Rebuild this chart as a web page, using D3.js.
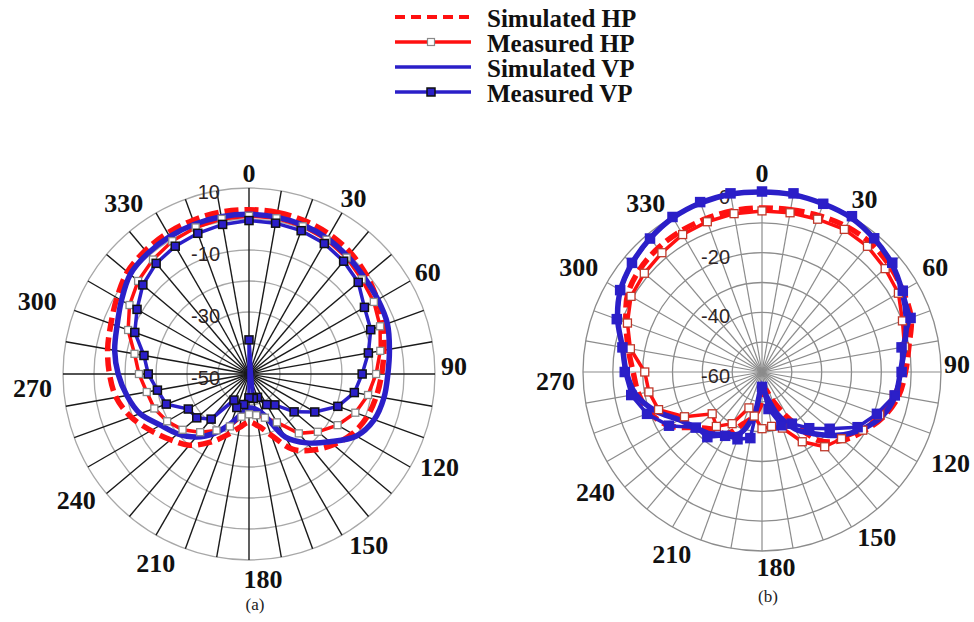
<!DOCTYPE html>
<html>
<head>
<meta charset="utf-8">
<script src="https://cdn.jsdelivr.net/npm/d3@7"></script>
<style>
  body { margin: 0; background: #fff; }
  svg { display: block; font-family: "Liberation Serif", "Times New Roman", serif; }
</style>
</head>
<body>
<svg id="chart" width="974" height="622"></svg>
<script>
// ---- data (dB vs angle in degrees, 0 = up, clockwise) ----
angles = [0, 10, 20, 30, 40, 50, 60, 70, 80, 90, 100, 110, 120, 130, 140, 150, 160, 170,
          180, 190, 200, 210, 220, 230, 240, 250, 260, 270, 280, 290, 300, 310, 320, 330, 340, 350];
angleTicks = [0, 30, 60, 90, 120, 150, 180, 210, 240, 270, 300, 330];

// (a)
ringTicksA = [10, -10, -30, -50];
simHP_a = [3, 2.9, 2.6, 2, 1, -0.5, -2.2, -4, -5.8, -7.2, -8.3, -9.5, -11.5, -14.5, -18, -22, -29, -33,
           -34.5, -32.5, -29, -24.5, -20, -17, -13.5, -9.5, -6.5, -5, -3.7, -2.6, -0.8, 1.2, 2, 2.5, 2.8, 3];
measHP_a = [1, 1, 0.7, 0, -1, -2.5, -3.5, -5, -7, -9, -11, -13.5, -17, -21, -25, -32, -35, -36.5,
            -37, -36, -32, -29, -25.5, -22, -19.5, -17.5, -16.5, -14.5, -12.5, -8.5, -5.5, -3.3, -1.8, -0.5, 0.3, 0.8];
simVP_a = [1.5, 1.4, 1.1, 0.5, -0.5, -1.5, -2, -2.5, -4, -5.2, -5.8, -7, -10, -16, -21, -26.5, -36, -38.5,
           -39, -37, -33, -28, -23.5, -20, -17, -12.6, -10, -7.8, -6, -4.7, -2.5, 0, 0.8, 1.2, 1.4, 1.5];
// measured VP keeps the stray sample (angle 0, -39 dB) between 170 and 180
measVPAngles_a = [0, 10, 20, 30, 40, 50, 60, 70, 80, 90, 100, 110, 120, 130, 140, 150, 160, 170, 0,
                  180, 190, 200, 210, 220, 230, 240, 250, 260, 270, 280, 290, 300, 310, 320, 330, 340, 350];
measVP_a = [-0.5, -0.6, -0.8, -1.4, -2.5, -4, -7, -8.2, -10.9, -13.5, -15.5, -19.5, -25.5, -31, -37, -38.6, -42, -42, -39,
            -42.3, -40, -38.5, -40.3, -31, -28, -27.4, -21.6, -20, -17.5, -15.6, -10.8, -8.3, -5.3, -3.4, -2.4, -1.7, -1.0];

// (b)
ringTicksB = [0, -20, -40, -60];
simHP_b = [-5, -4.8, -4.2, -3.6, -3.5, -4.3, -5.5, -6.8, -10, -11.9, -13.5, -16.5, -20.5, -24.5, -30, -42, -50, -54,
           -50, -45, -41.5, -36, -34.8, -31, -24, -20, -18, -16.8, -14.5, -11.5, -8, -6.5, -5.8, -5.5, -5.3, -5.1];
measHP_b = [-6, -5.8, -5.5, -4.8, -5, -6.1, -7.2, -9.9, -11.5, -13, -15, -18, -21, -25.2, -27.3, -33, -40, -41.5,
            -41, -45, -47.2, -40, -36.2, -38.2, -30, -23.1, -21.5, -20.7, -15.2, -12, -9.3, -8.5, -7.8, -6.8, -6.4, -6.1];
simVP_b = [0.3, 0.3, 0, -0.3, -1.6, -3.3, -5.8, -8.5, -11.5, -13.6, -14.6, -17, -21.5, -27, -33, -38, -45, -52,
           -55, -46, -38, -36, -33, -31, -28, -22, -17, -14.5, -12.5, -8.5, -5.2, -3.2, -1.6, -0.3, 0.3, 0.5];
measVP_b = [0.5, 0.8, 0, 0.3, -1.5, -3, -5.5, -7, -12.5, -13.2, -14.8, -19, -23, -30.4, -35.4, -40, -41, -47.4,
            -55, -37.5, -36, -35.3, -31.5, -31, -24, -19, -15.5, -14, -12.5, -8.2, -5.1, -3.1, -1.6, 0, 0.6, 0.8];

legendNames = ["Simulated HP", "Measured HP", "Simulated VP", "Measured VP"];

RED = "#ff1010";
BLUE = "#2b1fc8";

svg = d3.select("#chart");
svg.append("rect").attr("width", 974).attr("height", 622).attr("fill", "#fff");

function pairs(a, v) { return a.map((d, i) => ({ a: d, v: v[i] })); }

function drawPolar(opts) {
  g = svg.append("g").attr("transform", `translate(${opts.cx},${opts.cy})`);
  r = d3.scaleLinear().domain(opts.domain).range([0, opts.R]);
  ringVals = d3.range(opts.domain[0] + 10, opts.domain[1] + 1, 10);

  // rings
  g.selectAll(".ring").data(ringVals).enter().append("circle")
    .attr("r", d => r(d)).attr("fill", "none")
    .attr("stroke", opts.ringColor).attr("stroke-width", 1.3);

  // spokes every 10 degrees
  g.selectAll(".spoke").data(angles).enter().append("line")
    .attr("x1", 0).attr("y1", 0)
    .attr("x2", d => opts.R * Math.sin(d * Math.PI / 180))
    .attr("y2", d => -opts.R * Math.cos(d * Math.PI / 180))
    .attr("stroke", opts.spokeColor).attr("stroke-width", opts.spokeWidth);

  // radial value labels
  g.selectAll(".rlab").data(opts.ringTicks).enter().append("text")
    .attr("x", opts.rlabX).attr("y", d => -r(d) + 4)
    .attr("text-anchor", "end").attr("dominant-baseline", "central")
    .attr("font-family", "Liberation Sans, Arial, sans-serif")
    .attr("font-size", 20).attr("fill", "#2e2424").text(d => d);

  // angle labels, pushed out by half their box, plus the small per-label nudges of the original
  g.selectAll(".alab").data(angleTicks).enter().append("text")
    .attr("x", (d, i) => {
      t = d * Math.PI / 180; s = Math.sin(t); c = Math.cos(t); w = String(d).length * 13;
      x = (opts.R + opts.lab + w / 2) * s + 14 * (1 - c) / 2 + (s < 0 ? 8 * s * (1 + c) : 0) + opts.nudge[i][0];
      return Math.min(x, 972 - opts.cx - w / 2 - 2);
    })
    .attr("y", (d, i) => {
      t = d * Math.PI / 180; s = Math.sin(t); c = Math.cos(t);
      return -(opts.R + opts.lab + 9) * c - 10 * s * (1 - 0.3 * c) + 2 + opts.nudge[i][1];
    })
    .attr("text-anchor", "middle").attr("dominant-baseline", "central")
    .attr("font-size", 26).attr("font-weight", "bold").attr("fill", "#111")
    .text(d => d);

  smooth = d3.lineRadial().angle(d => d.a * Math.PI / 180).radius(d => r(d.v))
    .curve(d3.curveCatmullRomClosed.alpha(0.5));
  straight = d3.lineRadial().angle(d => d.a * Math.PI / 180).radius(d => r(d.v))
    .curve(d3.curveLinearClosed);

  // simulated HP
  g.append("path").attr("d", smooth(pairs(angles, opts.simHP)))
    .attr("fill", "none").attr("stroke", RED).attr("stroke-width", 5.5)
    .attr("stroke-dasharray", "14,6");
  // measured HP
  mhp = pairs(angles, opts.measHP);
  g.append("path").attr("d", straight(mhp))
    .attr("fill", "none").attr("stroke", RED).attr("stroke-width", 3.5);
  // simulated VP
  g.append("path").attr("d", smooth(pairs(angles, opts.simVP)))
    .attr("fill", "none").attr("stroke", BLUE).attr("stroke-width", 5.5);
  // measured VP
  mvp = pairs(opts.measVPAngles, opts.measVP);
  g.append("path").attr("d", straight(mvp))
    .attr("fill", "none").attr("stroke", BLUE).attr("stroke-width", 3.5);

  hs = opts.hpMark;
  g.selectAll(".mhp").data(mhp).enter().append("rect")
    .attr("x", d => r(d.v) * Math.sin(d.a * Math.PI / 180) - hs / 2)
    .attr("y", d => -r(d.v) * Math.cos(d.a * Math.PI / 180) - hs / 2)
    .attr("width", hs).attr("height", hs)
    .attr("fill", "#fff").attr("stroke", opts.hpMarkStroke).attr("stroke-width", 1.3);

  vs = opts.vpMark;
  g.selectAll(".mvp").data(mvp).enter().append("rect")
    .attr("x", d => r(d.v) * Math.sin(d.a * Math.PI / 180) - vs / 2)
    .attr("y", d => -r(d.v) * Math.cos(d.a * Math.PI / 180) - vs / 2)
    .attr("width", vs).attr("height", vs)
    .attr("fill", BLUE).attr("stroke", opts.vpMarkStroke).attr("stroke-width", 1.5);

  // caption
  svg.append("text").attr("x", opts.cx + 6).attr("y", opts.cy + opts.capDy)
    .attr("text-anchor", "middle").attr("font-size", 17).attr("fill", "#222")
    .text(opts.caption);
}

drawPolar({
  cx: 249, cy: 374, R: 186, domain: [-50, 10], lab: 8, rlabX: -29,
  ringColor: "#a8a8a8", spokeColor: "#1a1a1a", spokeWidth: 1.4, ringTicks: ringTicksA,
  nudge: [[0, 0], [0, 2], [-4, 5], [-9, 0], [-5, 0], [0, 0], [0, 0], [1, 5], [5, 13], [-2, 2], [-20, 20], [-12, 0]],
  simHP: simHP_a, measHP: measHP_a, simVP: simVP_a,
  measVPAngles: measVPAngles_a, measVP: measVP_a,
  hpMark: 7, vpMark: 8, hpMarkStroke: "#8a8a8a", vpMarkStroke: "#111",
  caption: "(a)", capDy: 236
});

drawPolar({
  cx: 762, cy: 372, R: 179, domain: [-60, 0], lab: 11, rlabX: -32,
  ringColor: "#8c8c8c", spokeColor: "#8c8c8c", spokeWidth: 1.2, ringTicks: ringTicksB,
  nudge: [[0, -2], [0, 2], [-6, 0], [0, 0], [-3, 0], [-3, -3], [0, -6], [2, 2], [8, 9], [4, -3], [5, -14], [-5, -2]],
  simHP: simHP_b, measHP: measHP_b, simVP: simVP_b,
  measVPAngles: angles, measVP: measVP_b,
  hpMark: 8, vpMark: 9, hpMarkStroke: "#c0392b", vpMarkStroke: BLUE,
  caption: "(b)", capDy: 230
});

// legend
legendY = [17, 42, 67, 92];
leg = svg.append("g");
legendNames.forEach((name, i) => {
  y = legendY[i];
  line = leg.append("line").attr("x1", 395).attr("x2", 471).attr("y1", y).attr("y2", y)
    .attr("stroke", i < 2 ? RED : BLUE).attr("stroke-width", i === 0 ? 4 : 3.5);
  if (i === 0) line.attr("stroke-dasharray", "10,6");
  if (i === 1) leg.append("rect").attr("x", 427.5).attr("y", y - 3.5).attr("width", 7).attr("height", 7)
    .attr("fill", "#fff").attr("stroke", "#8a8a8a").attr("stroke-width", 1.2);
  if (i === 3) leg.append("rect").attr("x", 427).attr("y", y - 4).attr("width", 8).attr("height", 8)
    .attr("fill", BLUE).attr("stroke", "#111").attr("stroke-width", 1.5);
  leg.append("text").attr("x", 487).attr("y", y + 1).attr("dominant-baseline", "central")
    .attr("font-size", 25).attr("font-weight", "bold").attr("fill", "#111").text(name);
});
</script>
</body>
</html>
